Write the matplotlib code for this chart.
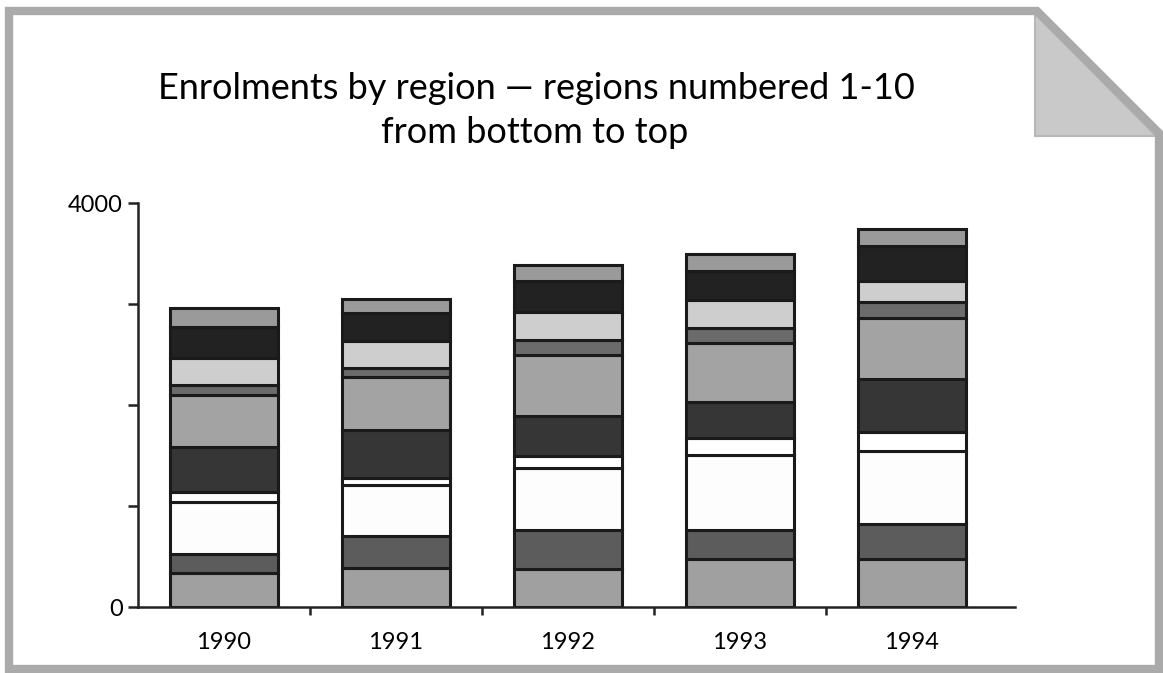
import matplotlib
matplotlib.use("Agg")
import matplotlib.pyplot as plt
from matplotlib.patches import Polygon
import numpy as np

plt.rcParams['font.family'] = ['Lato', 'DejaVu Sans']

years = ['1990', '1991', '1992', '1993', '1994']
region1 = [337, 387, 380, 473, 473]
region2 = [192, 317, 380, 288, 347]
region3 = [509, 502, 618, 744, 724]
region4 = [102, 76, 119, 165, 192]
region5 = [446, 469, 397, 357, 522]
region6 = [516, 529, 602, 585, 608]
region7 = [96, 83, 149, 155, 152]
region8 = [264, 274, 274, 274, 212]
region9 = [307, 271, 311, 288, 341]
region10 = [188, 139, 159, 165, 175]
regions = [region1, region2, region3, region4, region5,
           region6, region7, region8, region9, region10]
colors = ['#a0a0a0', '#5c5c5c', '#fdfdfd', '#ffffff', '#363636',
          '#a3a3a3', '#6b6b6b', '#cecece', '#222222', '#9a9a9a']
ytick_vals = [0, 1000, 2000, 3000, 4000]
ytick_labels = ['0', '', '', '', '4000']
title1 = 'Enrolments by region \u2014 regions numbered 1-10'
title2 = 'from bottom to top'

W, H = 1163, 673
fig = plt.figure(figsize=(W / 100, H / 100), dpi=100)
fig.patch.set_facecolor('white')

# background frame (folded paper)
bg = fig.add_axes([0, 0, 1, 1], zorder=0)
bg.set_xlim(0, W)
bg.set_ylim(H, 0)
bg.axis('off')
tri = Polygon([(1035, 14), (1035, 136), (1156, 136)], closed=True,
              facecolor='#c9c9c9', edgecolor='#b8b8b8', lw=1.5)
bg.add_patch(tri)
frame = Polygon([(9, 669), (9, 11), (1037, 11), (1159, 133), (1159, 669)],
                closed=True, fill=False, edgecolor='#aaaaaa', lw=6,
                joinstyle='miter')
bg.add_patch(frame)

# title
fig.text(536 / W, 1 - 99 / H, title1, ha='center', va='baseline',
         fontsize=26, color='black')
fig.text(535 / W, 1 - 143 / H, title2, ha='center', va='baseline',
         fontsize=26, color='black')

# main axes
x0, x1 = 138, 1015
y0, y1 = 607, 203
ax = fig.add_axes([x0 / W, 1 - y0 / H, (x1 - x0) / W, (y0 - y1) / H], zorder=1)
ax.patch.set_alpha(0)
xs = np.arange(len(years))
bottom = np.zeros(len(years))
for vals, c in zip(regions, colors):
    ax.bar(xs, vals, width=0.63, bottom=bottom, color=c,
           edgecolor='#1a1a1a', linewidth=2.2)
    bottom += np.array(vals)

ax.set_xlim(-0.5, 4.6)
ax.set_ylim(0, 4000)
for s in ['top', 'right']:
    ax.spines[s].set_visible(False)
for s in ['left', 'bottom']:
    ax.spines[s].set_linewidth(1.8)
    ax.spines[s].set_color('#222222')

ax.set_yticks(ytick_vals)
ax.set_yticklabels(ytick_labels)
ax.tick_params(axis='y', direction='out', length=7, width=1.8,
               color='#222222', pad=4, labelsize=17)
ax.set_xticks(xs)
ax.set_xticklabels(years)
ax.tick_params(axis='x', which='major', length=0, pad=18, labelsize=17)
ax.set_xticks(xs[:-1] + 0.5, minor=True)
ax.tick_params(axis='x', which='minor', direction='out', length=6,
               width=1.8, color='#222222')

fig.savefig('out.png', dpi=100, facecolor='white')
